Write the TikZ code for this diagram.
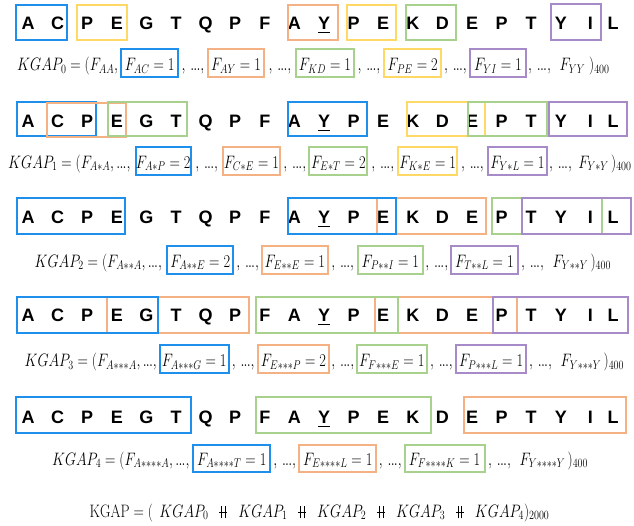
\RequirePackage{fix-cm}
\documentclass[tikz,border=0pt]{standalone}
\usepackage{fontspec}
\usepackage{graphicx}
\newfontfamily\seqfont{Liberation Sans}
\usetikzlibrary{calc}
\definecolor{cblue}{HTML}{1E8FEA}
\definecolor{corange}{HTML}{F4B183}
\definecolor{cyellow}{HTML}{FFD966}
\definecolor{cgreen}{HTML}{A9D18E}
\definecolor{cpurple}{HTML}{A68BC8}
\newcommand\fm[1]{\scalebox{0.8}[1]{$#1$}}
\newcommand\dplus{\mbox{\makebox[0.62em]{\rule[0.22em]{0.56em}{0.06em}}\hspace{-0.62em}\makebox[0.62em]{\rule[-0.08em]{0.07em}{0.68em}\hspace{0.2em}\rule[-0.08em]{0.07em}{0.68em}}}}
\newcommand\cct{\;\:\mathbin{\dplus}\:\;}
\newcommand\sa{{\ast}}
\newcommand\el{{.\mkern-1mu.\mkern-1mu.}}
\newcommand\gp{,\,\el,}
\tikzset{
  seq/.style={font=\seqfont\bfseries\fontsize{18}{20}\selectfont, inner sep=0pt, anchor=base},
  frm/.style={font=\fontsize{18}{21}\selectfont, inner sep=0pt, anchor=base},
  frmw/.style={frm, anchor=base west},
  bbl/.style={draw=cblue, line width=2pt},
  bor/.style={draw=corange, line width=2pt},
  bye/.style={draw=cyellow, line width=2pt},
  bgr/.style={draw=cgreen, line width=2pt},
  bpu/.style={draw=cpurple, line width=2pt},
  uline/.style={draw=black, line width=1.5pt},
}
\begin{document}
\begin{tikzpicture}[x=1pt,y=-1pt]
\useasboundingbox (0,0) rectangle (634,525);

% ---------- sequence rows ----------
\foreach \r/\yy in {1/29.5, 2/127.5, 3/223.5, 4/321.5, 5/423.5} {
  \foreach \c [count=\i from 0] in {A,C,P,E,G,T,Q,P,F,A,Y,P,E,K,D,E,P,T,Y,I,L} {
    \pgfmathsetmacro\xx{\i<20 ? 28+29.6*\i : 613}
    \node[seq] (r\r-\i) at (\xx,\yy) {\c};
  }
  \draw[uline] ($(r\r-10.base west)+(0,2.8)$) -- ($(r\r-10.base east)+(0,2.8)$);
}

% row 1 boxes
\draw[bbl] (16,4.7) rectangle (66.7,40);
\draw[bye] (76.7,4.7) rectangle (126.7,40);
\draw[bor] (288.3,4.7) rectangle (338,40);
\draw[bye] (347,4.7) rectangle (396.4,40);
\draw[bgr] (405.7,4.7) rectangle (456.3,40);
\draw[bpu] (551,4) rectangle (600.7,39.5);

% row 2 boxes
\draw[bbl] (17,102) rectangle (95.9,136);
\draw[bor] (47.3,102.5) rectangle (126.2,136.5);
\draw[bgr] (108,101.5) rectangle (186.9,135.5);
\draw[bbl] (288,102) rectangle (367.3,136);
\draw[bye] (407.3,102) rectangle (485.4,136);
\draw[bgr] (468,101.5) rectangle (546.9,135.5);
\draw[bpu] (548.9,101.5) rectangle (627,135.5);

% row 3 boxes
\draw[bbl] (17,198.3) rectangle (124.6,234);
\draw[bor] (377,198.3) rectangle (486.2,234);
\draw[bbl] (288,198.3) rectangle (396.4,234);
\draw[bgr] (491.5,198.3) rectangle (601.5,234);
\draw[bpu] (521.8,198.3) rectangle (631,234);

% row 4 boxes
\draw[bor] (107.2,297.3) rectangle (248.8,332.7);
\draw[bbl] (17,297.3) rectangle (157.8,332.7);
\draw[bor] (375.4,297.3) rectangle (517,332.7);
\draw[bgr] (256,297.3) rectangle (398.4,332.7);
\draw[bpu] (492.7,297.3) rectangle (628.2,332.7);

% row 5 boxes
\draw[bbl] (16.2,397.3) rectangle (191,433.3);
\draw[bgr] (255.6,397.3) rectangle (430.8,433.3);
\draw[bor] (464.4,397.3) rectangle (626.2,433.3);

% ---------- formula row 1 ----------
\node[frmw] (f1a) at (17,70.3) {\fm{KGAP_0 = (F_{AA},}};
\draw[bbl] (121.4,49.3) rectangle (178,77.3);
\node[frm] (f1b) at (149.7,70.3) {\fm{F_{AC} = 1}};
\node[frm] (f1c) at (193,70.3) {\fm{\gp}};
\draw[bor] (208.3,49.3) rectangle (263.7,77.3);
\node[frm] (f1d) at (236,70.3) {\fm{F_{AY} = 1}};
\node[frm] (f1e) at (280,70.3) {\fm{\gp}};
\draw[bgr] (296,49.3) rectangle (354,77.3);
\node[frm] (f1f) at (325,70.3) {\fm{F_{KD} = 1}};
\node[frm] (f1g) at (369,70.3) {\fm{\gp}};
\draw[bye] (384.3,49.3) rectangle (441,77.3);
\node[frm] (f1h) at (412.7,70.3) {\fm{F_{PE} = 2}};
\node[frm] (f1i) at (455.5,70.3) {\fm{\gp}};
\draw[bpu] (470,49.3) rectangle (526,77.3);
\node[frm] (f1j) at (498,70.3) {\fm{F_{YI} = 1}};
\node[frmw] (f1k) at (528,70.3) {\fm{\gp\;\,F_{YY}\;)_{400}}};

% ---------- formula row 2 ----------
\node[frmw] (f2a) at (8,168) {\fm{KGAP_1 = (F_{A\sa A},\el,}};
\draw[bbl] (135.5,146.7) rectangle (191,175);
\node[frm] (f2b) at (163.25,168) {\fm{F_{A\sa P} = 2}};
\node[frm] (f2c) at (206.75,168) {\fm{\gp}};
\draw[bor] (222.5,146.7) rectangle (280.3,175);
\node[frm] (f2d) at (251.4,168) {\fm{F_{C\sa E} = 1}};
\node[frm] (f2e) at (294.85,168) {\fm{\gp}};
\draw[bgr] (309.4,146.7) rectangle (367.3,175);
\node[frm] (f2f) at (338.35,168) {\fm{F_{E\sa T} = 2}};
\node[frm] (f2g) at (382.85,168) {\fm{\gp}};
\draw[bye] (398.4,146.7) rectangle (457,175);
\node[frm] (f2h) at (427.7,168) {\fm{F_{K\sa E} = 1}};
\node[frm] (f2i) at (472.5,168) {\fm{\gp}};
\draw[bpu] (488,146.7) rectangle (547,175);
\node[frm] (f2j) at (517.5,168) {\fm{F_{Y\sa L} = 1}};
\node[frmw] (f2k) at (549,168) {\fm{\gp\;F_{Y\sa Y}\,)_{400}}};

% ---------- formula row 3 ----------
\node[frmw] (f3a) at (34.4,267) {\fm{KGAP_2 = (F_{A\sa\sa A},\el,}};
\draw[bbl] (167,246) rectangle (233.4,274);
\node[frm] (f3b) at (200.2,267) {\fm{F_{A\sa\sa E} = 2}};
\node[frm] (f3c) at (247.7,267) {\fm{\gp}};
\draw[bor] (262,246) rectangle (327.6,274);
\node[frm] (f3d) at (294.8,267) {\fm{F_{E\sa\sa E} = 1}};
\node[frm] (f3e) at (342.8,267) {\fm{\gp}};
\draw[bgr] (358,246) rectangle (422.7,274);
\node[frm] (f3f) at (390.35,267) {\fm{F_{P\sa\sa I} = 1}};
\node[frm] (f3g) at (436.85,267) {\fm{\gp}};
\draw[bpu] (451,246) rectangle (517.8,274);
\node[frm] (f3h) at (484.4,267) {\fm{F_{T\sa\sa L} = 1}};
\node[frmw] (f3i) at (521,267) {\fm{\gp\;\,F_{Y\sa\sa Y}\,)_{400}}};

% ---------- formula row 4 ----------
\node[frmw] (f4a) at (24.3,366.3) {\fm{KGAP_3 = (F_{A\sa\sa\sa A},\el,}};
\draw[bbl] (159.8,345) rectangle (228.5,373.3);
\node[frm] (f4b) at (194.15,366.3) {\fm{F_{A\sa\sa\sa G} = 1}};
\node[frm] (f4c) at (243.25,366.3) {\fm{\gp}};
\draw[bor] (258,345) rectangle (328.9,373.3);
\node[frm] (f4d) at (293.45,366.3) {\fm{F_{E\sa\sa\sa P} = 2}};
\node[frm] (f4e) at (342.85,366.3) {\fm{\gp}};
\draw[bgr] (356.8,345) rectangle (426.7,373.3);
\node[frm] (f4f) at (391.75,366.3) {\fm{F_{F\sa\sa\sa E} = 1}};
\node[frm] (f4g) at (441.5,366.3) {\fm{\gp}};
\draw[bpu] (456.3,345) rectangle (525.9,373.3);
\node[frm] (f4h) at (491.1,366.3) {\fm{F_{P\sa\sa\sa L} = 1}};
\node[frmw] (f4i) at (529,366.3) {\fm{\gp\;\,F_{Y\sa\sa\sa Y}\,)_{400}}};

% ---------- formula row 5 ----------
\node[frmw] (f5a) at (51.8,465) {\fm{KGAP_4 = (F_{A\sa\sa\sa\sa A},\el,}};
\draw[bbl] (193.4,445) rectangle (270.2,472);
\node[frm] (f5b) at (231.8,465) {\fm{F_{A\sa\sa\sa\sa T} = 1}};
\node[frm] (f5c) at (284.75,465) {\fm{\gp}};
\draw[bor] (299.3,445) rectangle (376.2,472);
\node[frm] (f5d) at (337.75,465) {\fm{F_{E\sa\sa\sa\sa L} = 1}};
\node[frm] (f5e) at (390.35,465) {\fm{\gp}};
\draw[bgr] (404.5,445) rectangle (484.6,472);
\node[frm] (f5f) at (444.55,465) {\fm{F_{F\sa\sa\sa\sa K} = 1}};
\node[frmw] (f5g) at (488,465) {\fm{\gp\;\,F_{Y\sa\sa\sa\sa Y}\,)_{400}}};

% ---------- final line ----------
\node[frm] (fin) at (319.5,517) {\fm{\mathrm{KGAP} = (\;\,KGAP_0 \cct KGAP_1 \cct KGAP_2 \cct KGAP_3 \cct KGAP_4)_{2000}}};
\end{tikzpicture}
\end{document}
